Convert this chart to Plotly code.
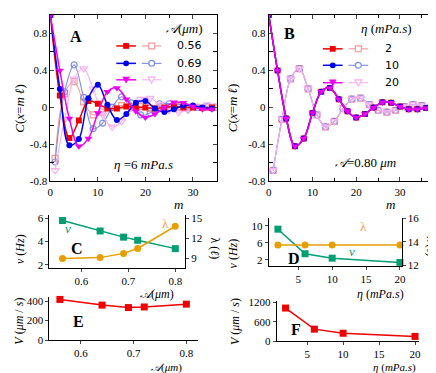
import plotly.graph_objects as go

W, H = 436, 373
def px(x): return x / W
def py(y): return 1 - y / H

# ---------------- data ----------------
# Panel A: C(x=m l) vs m, eta = 6 mPa.s
m_even_A = list(range(0, 35, 2))
m_odd_A = list(range(1, 36, 2))
A056_even = [1.0, 0.13, -0.33, -0.14, 0.07, 0.04, -0.01, -0.01, 0.01, 0.0, 0.0, -0.01, 0.0, 0.01, 0.0, 0.0, -0.005, 0.0]
A056_odd = [-0.55, 0.15, 0.28, 0.06, -0.08, -0.05, 0.0, 0.02, 0.01, 0.01, -0.01, -0.01, 0.0, 0.01, 0.0, 0.0, 0.0, 0.0]
A069_even = [1.0, 0.20, -0.41, -0.34, 0.10, 0.245, 0.03, -0.135, -0.07, 0.05, 0.07, -0.01, -0.05, -0.02, 0.02, 0.02, 0.0, -0.01]
A069_odd = [-0.59, 0.17, 0.46, 0.11, -0.23, -0.17, 0.0, 0.115, 0.05, -0.08, -0.06, 0.04, 0.04, 0.0, -0.02, 0.0, 0.01, 0.0]
A080_even = [1.0, 0.40, -0.12, -0.42, -0.335, -0.06, 0.17, 0.21, 0.09, -0.04, -0.11, -0.07, 0.0, 0.055, 0.05, 0.01, -0.02, -0.02]
A080_odd = [-0.68, -0.13, 0.31, 0.42, 0.20, -0.08, -0.21, -0.15, -0.01, 0.09, 0.10, 0.03, -0.03, -0.05, -0.03, 0.01, 0.03, 0.02]

# Panel B: C(x=m l) vs m, A = 0.80 um
m_even_B = list(range(0, 39, 2))
m_odd_B = list(range(1, 40, 2))
eta2_even = [1.0, 0.40, -0.12, -0.42, -0.335, -0.06, 0.17, 0.21, 0.09, -0.04, -0.11, -0.07, 0.0, 0.055, 0.05, 0.01, -0.02, -0.02, -0.005, 0.0]
eta2_odd = [-0.68, -0.13, 0.31, 0.42, 0.20, -0.08, -0.21, -0.15, -0.01, 0.09, 0.10, 0.03, -0.03, -0.05, -0.03, 0.01, 0.03, 0.02, 0.0, -0.01]
eta10_even = [1.0, 0.40, -0.12, -0.42, -0.335, -0.06, 0.17, 0.21, 0.09, -0.04, -0.11, -0.07, 0.0, 0.055, 0.05, 0.01, -0.02, -0.02, -0.005, 0.0]
eta10_odd = [-0.68, -0.13, 0.31, 0.42, 0.20, -0.08, -0.21, -0.15, -0.01, 0.09, 0.10, 0.03, -0.03, -0.05, -0.03, 0.01, 0.03, 0.02, 0.0, -0.01]
eta20_even = [1.0, 0.40, -0.12, -0.42, -0.335, -0.06, 0.17, 0.21, 0.09, -0.04, -0.11, -0.07, 0.0, 0.055, 0.05, 0.01, -0.02, -0.02, -0.005, 0.0]
eta20_odd = [-0.68, -0.13, 0.31, 0.42, 0.20, -0.08, -0.21, -0.15, -0.01, 0.09, 0.10, 0.03, -0.03, -0.05, -0.03, 0.01, 0.03, 0.02, 0.0, -0.01]

# Panel C / E: vs A (um)
amp = [0.56, 0.64, 0.69, 0.72, 0.80]
nu_C = [5.8, 4.9, 4.37, 4.1, 3.38]
lam_C = [9.0, 9.14, 9.77, 10.5, 13.8]
V_E = [416, 358, 333, 339, 368]

# Panel D / F: vs eta (mPa.s)
eta = [2, 6, 10, 20]
nu_D = [9.24, 3.44, 2.39, 1.39]
lam_D = [13.74, 13.74, 13.74, 13.74]
V_F = [1025, 371, 244, 146]

# ---------------- styles ----------------
RED, BLUE, MAG = "#f00000", "#0000f0", "#f000f0"
LRED, LBLUE, LMAG = "#f49a9a", "#7b8ce6", "#f7b0f2"
GREEN, ORANGE = "#009e73", "#e69f00"
SERIF = "Liberation Serif"
SANS = "DejaVu Sans"

fig = go.Figure()

def curve(x, y, xa, ya, color, symbol, size, width, open_=False):
    fig.add_trace(go.Scatter(
        x=x, y=y, xaxis=xa, yaxis=ya, mode="lines+markers",
        line=dict(color=color, width=width, shape="spline", smoothing=1.0),
        marker=dict(symbol=symbol, size=size, color=color,
                    line=dict(color=color, width=1.2 if open_ else 0)),
        showlegend=False, hoverinfo="skip"))

# Panel A (open first, then solid)
curve(m_odd_A, A056_odd, "x", "y", LRED, "square-open", 6, 1.1, True)
curve(m_odd_A, A069_odd, "x", "y", LBLUE, "circle-open", 6, 1.1, True)
curve(m_odd_A, A080_odd, "x", "y", LMAG, "triangle-down-open", 7, 1.1, True)
curve(m_even_A, A056_even, "x", "y", RED, "square", 6, 1.5)
curve(m_even_A, A069_even, "x", "y", BLUE, "circle", 6, 1.5)
curve(m_even_A, A080_even, "x", "y", MAG, "triangle-down", 7, 1.5)

# Panel B
curve(m_odd_B, eta2_odd, "x2", "y2", LRED, "square-open", 6, 1.1, True)
curve(m_odd_B, eta10_odd, "x2", "y2", LBLUE, "circle-open", 6, 1.1, True)
curve(m_odd_B, eta20_odd, "x2", "y2", LMAG, "triangle-down-open", 7, 1.1, True)
curve(m_even_B, eta2_even, "x2", "y2", RED, "square", 6, 1.5)
curve(m_even_B, eta10_even, "x2", "y2", BLUE, "circle", 6, 1.5)
curve(m_even_B, eta20_even, "x2", "y2", MAG, "triangle-down", 7, 1.5)

def simple(x, y, xa, ya, color, symbol):
    fig.add_trace(go.Scatter(
        x=x, y=y, xaxis=xa, yaxis=ya, mode="lines+markers", cliponaxis=False,
        line=dict(color=color, width=1.5),
        marker=dict(symbol=symbol, size=7, color=color),
        showlegend=False, hoverinfo="skip"))

simple(amp, nu_C, "x3", "y3", GREEN, "square")
simple(amp, lam_C, "x3", "y4", ORANGE, "circle")
simple(eta, nu_D, "x4", "y5", GREEN, "square")
simple(eta, lam_D, "x4", "y6", ORANGE, "circle")
simple(amp, V_E, "x5", "y7", RED, "square")
simple(eta, V_F, "x6", "y8", RED, "square")

# ---------------- axes ----------------
tickfont = dict(family=SERIF, size=11, color="black")

def box_x(dom, rng, tv, minor_tv, anchor):
    return dict(domain=dom, range=rng, anchor=anchor, tickvals=tv, ticks="inside",
                ticklen=4, showline=True, linecolor="black", linewidth=1, mirror="ticks",
                showgrid=False, zeroline=False, tickfont=tickfont,
                minor=dict(tickvals=minor_tv, ticks="inside", ticklen=3, tickcolor="black"))

def box_y(dom, rng, anchor):
    return dict(domain=dom, range=rng, anchor=anchor,
                tickvals=[-0.8, -0.4, 0, 0.4, 0.8], ticktext=["-0.8", "-0.4", "0", "0.4", "0.8"],
                ticks="inside", ticklen=4, showline=True, linecolor="black", linewidth=1,
                mirror="ticks", showgrid=False, zeroline=False, tickfont=tickfont,
                minor=dict(tickvals=[-0.6, -0.2, 0.2, 0.6], ticks="inside", ticklen=4, tickcolor="black"))

def plain(dom, rng, tv, anchor, **kw):
    d = dict(domain=dom, range=rng, anchor=anchor, tickvals=tv, ticks="outside", ticklen=3,
             showline=True, linecolor="black", linewidth=1, showgrid=False, zeroline=False,
             tickfont=tickfont)
    d.update(kw)
    return d

yA = [py(173), py(1)]
fig.update_layout(
    xaxis=box_x([px(40), px(209)], [0, 35], [0, 10, 20, 30], [5, 15, 25], "y"),
    yaxis=box_y(yA, [-0.8, 1.0], "x"),
    xaxis2=box_x([px(262), px(433)], [0, 38.5], [0, 10, 20, 30], [5, 15, 25, 35], "y2"),
    yaxis2=box_y(yA, [-0.8, 1.0], "x2"),
    xaxis3=plain([px(39), px(177)], [0.532, 0.821], [0.6, 0.7, 0.8], "y3"),
    yaxis3=plain([py(262), py(208)], [1.75, 6.25], [2, 4, 6], "x3"),
    yaxis4=plain([py(262), py(208)], [7.66, 15.43], [9, 12, 15], "x3", overlaying="y3", side="right"),
    xaxis4=plain([px(262), px(397)], [0.65, 20.25], [5, 10, 15, 20], "y5"),
    yaxis5=plain([py(260), py(211)], [0.63, 11.83], [2, 6, 10], "x4"),
    yaxis6=plain([py(260), py(211)], [11.97, 16.03], [12, 14, 16], "x4", overlaying="y5", side="right"),
    xaxis5=plain([px(39), px(190)], [0.54, 0.822], [0.6, 0.7, 0.8], "y7"),
    yaxis7=plain([py(337), py(292)], [0, 445], [0, 200, 400], "x5"),
    xaxis6=plain([px(270), px(415)], [0.76, 20.6], [5, 10, 15, 20], "y8"),
    yaxis8=plain([py(338), py(297)], [0, 1230], [0, 600, 1200], "x6"),
)

# ---------------- annotations ----------------
anns = []
def ann(x, y, text, size=12, color="black", family=SERIF, xanchor="center", angle=0):
    anns.append(dict(x=px(x), y=py(y), xref="paper", yref="paper", text=text, showarrow=False,
                     xanchor=xanchor, yanchor="middle", textangle=angle,
                     font=dict(family=family, size=size, color=color)))

# panel letters
for (x, y, t) in [(66, 23, "A"), (283, 20, "B"), (67, 242, "C"), (288, 253, "D"), (69, 318, "E"), (290, 326, "F")]:
    ann(x, y, "<b>%s</b>" % t, size=16)

ctitle = "<i>C</i>(<i>x</i>=<i>m ℓ</i>)"
ann(9, 97, ctitle, 13, angle=-90)
ann(226, 97, ctitle, 13, angle=-90)
ann(170, 197, "<i>m</i>", 13)
ann(386, 197, "<i>m</i>", 13)

# legends A / B (titles)
ann(176, 15, "<i>𝒜</i>(<i>μm</i>)", 13)
ann(382, 15, "<i>η</i> (<i>mPa.s</i>)", 13)
ann(135, 155, "<i>η</i> =6 <i>mPa.s</i>", 13)
ann(360, 153, "<i>𝒜</i>=0.80 <i>μm</i>", 13)

# C / D texts
ann(58, 222, "<i>ν</i>", 13, GREEN)
ann(157, 216, "λ", 13, "#f0a060")
ann(358, 220, "λ", 13, "#f0a060")
ann(347, 245, "<i>ν</i>", 13, GREEN)

ann(9, 243, "<i>ν</i> (<i>Hz</i>)", 12, angle=-90)
ann(207, 242, "λ (<i>ℓ</i>)", 12, angle=90)
ann(148, 289, "<i>𝒜</i>(<i>μm</i>)", 12)
ann(226, 247, "<i>ν</i> (<i>Hz</i>)", 12, angle=-90)
ann(427, 240, "λ (<i>ℓ</i>)", 11, angle=90)
ann(376, 289, "<i>η</i> (<i>mPa.s</i>)", 12)

ann(8, 317, "<i>V</i> (<i>μm</i> / <i>s</i>)", 12, angle=-90)
ann(158, 365, "<i>𝒜</i>(<i>μm</i>)", 11)
ann(227, 318, "<i>V</i> (<i>μm</i> / <i>s</i>)", 12, angle=-90)
ann(390, 365, "<i>η</i> (<i>mPa.s</i>)", 11)

# legend rows (samples drawn as shapes)
shapes = []
def seg(x0, x1, y, color, w):
    shapes.append(dict(type="line", xref="paper", yref="paper", x0=px(x0), x1=px(x1),
                       y0=py(y), y1=py(y), line=dict(color=color, width=w)))
def mark(cx, cy, kind, color, filled):
    fill = color if filled else "white"
    lw = 0 if filled else 1.2
    if kind == "square":
        shapes.append(dict(type="rect", xref="paper", yref="paper", x0=px(cx - 3), x1=px(cx + 3),
                           y0=py(cy + 3), y1=py(cy - 3), fillcolor=fill, line=dict(color=color, width=lw)))
    elif kind == "circle":
        shapes.append(dict(type="circle", xref="paper", yref="paper", x0=px(cx - 3), x1=px(cx + 3),
                           y0=py(cy + 3), y1=py(cy - 3), fillcolor=fill, line=dict(color=color, width=lw)))
    else:
        path = "M %f,%f L %f,%f L %f,%f Z" % (px(cx - 3.5), py(cy - 3), px(cx + 3.5), py(cy - 3), px(cx), py(cy + 3.5))
        shapes.append(dict(type="path", xref="paper", yref="paper", path=path,
                           fillcolor=fill, line=dict(color=color, width=lw if lw else 0.5)))

rowsA = [(33, RED, LRED, "square", "0.56"), (51, BLUE, LBLUE, "circle", "0.69"), (68, MAG, LMAG, "tri", "0.80")]
for (y, c, lc, k, lab) in rowsA:
    seg(107, 127, y, c, 1.5); mark(117, y, k, c, True)
    seg(133, 153, y, lc, 1.1); mark(143, y, k, lc, False)
    ann(167, y, lab, 11, family=SANS, xanchor="left")

rowsB = [(36, RED, LRED, "square", "2"), (53, BLUE, LBLUE, "circle", "10"), (71, MAG, LMAG, "tri", "20")]
for (y, c, lc, k, lab) in rowsB:
    seg(317, 337, y, c, 1.5); mark(327, y, k, c, True)
    seg(343, 363, y, lc, 1.1); mark(353, y, k, lc, False)
    ann(378, y, lab, 11, family=SANS, xanchor="left")

fig.update_layout(
    width=W, height=H, margin=dict(l=0, r=0, t=0, b=0),
    paper_bgcolor="white", plot_bgcolor="white",
    annotations=anns, shapes=shapes, showlegend=False,
)

fig.write_html("out.html")
